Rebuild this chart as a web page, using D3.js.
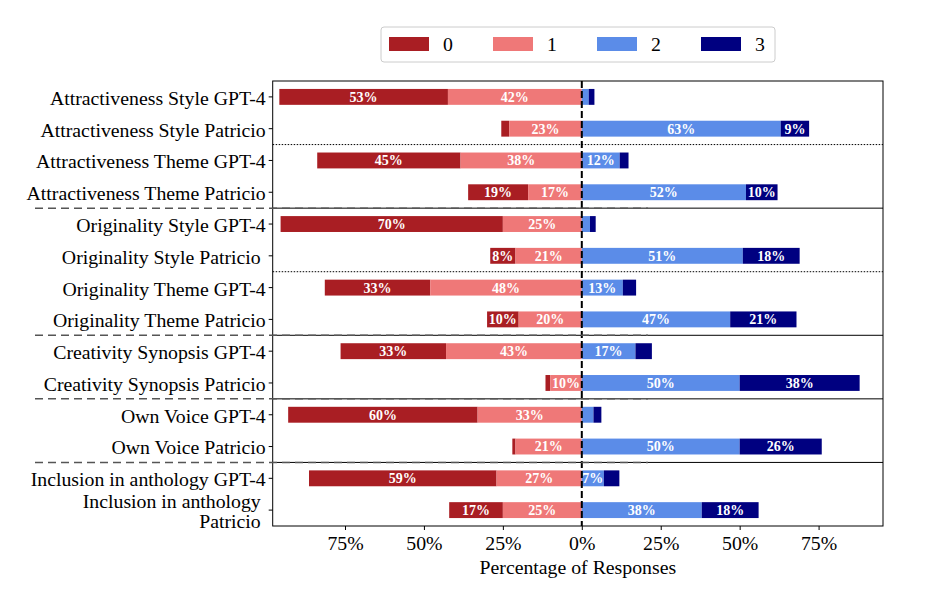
<!DOCTYPE html>
<html>
<head>
<meta charset="utf-8">
<script src="https://cdn.jsdelivr.net/npm/d3@7"></script>
<style>
  body { margin: 0; background: #fff; }
  svg, svg text { font-family: "Liberation Serif", "Times New Roman", serif; }
</style>
</head>
<body>
<div id="chart"></div>
<script>
// Row labels (top to bottom)
const categories = [
  "Attractiveness Style GPT-4",
  "Attractiveness Style Patricio",
  "Attractiveness Theme GPT-4",
  "Attractiveness Theme Patricio",
  "Originality Style GPT-4",
  "Originality Style Patricio ",
  "Originality Theme GPT-4",
  "Originality Theme Patricio",
  "Creativity Synopsis GPT-4",
  "Creativity Synopsis Patricio",
  "Own Voice GPT-4",
  "Own Voice Patricio",
  "Inclusion in anthology GPT-4",
  "Inclusion in anthology \nPatricio "
];

// Percentage of responses per score
const score0 = [53.4, 2.5, 45.4, 19, 70.4, 8, 33.4, 10, 33.4, 1.5, 60, 1, 59.4, 17];
const score1 = [42.4, 23, 38.4, 17, 25, 21, 48, 20, 43, 10, 33, 21, 27, 25];
const score2 = [2.2, 63, 12, 52, 2.6, 51, 13, 47, 17, 50, 3.7, 50, 7, 38];
const score3 = [1.8, 9, 2.8, 10, 1.8, 18, 4.2, 21, 5.2, 38, 2.5, 26, 4.9, 18];

const scoreNames = ["0", "1", "2", "3"];
const colors = ["#a91e23", "#ef7878", "#5b8ce8", "#000080"];

const xTicks = [-75, -50, -25, 0, 25, 50, 75];
const dottedAfter = [2, 6];        // dotted separators (row index boundaries)
const solidAfter = [4, 8, 10, 12]; // solid separators

const W = 926, H = 596;
const margin = { top: 81, right: 43, bottom: 70, left: 272.7 };
const width = W - margin.left - margin.right;
const height = H - margin.top - margin.bottom;
const FS = 19.8;

const svg = d3.select("#chart").append("svg")
    .attr("width", W).attr("height", H);

const g = svg.append("g")
    .attr("transform", `translate(${margin.left},${margin.top})`);

const x = d3.scaleLinear().domain([-97.9, 95.4]).range([0, width]);
const y = d3.scaleBand().domain(d3.range(categories.length)).range([0, height]).padding(0);
const barH = y.bandwidth() * 0.5;

// Build segments: 0 and 1 go left of zero, 2 and 3 go right
const rows = categories.map((c, i) => {
  const v = [score0[i], score1[i], score2[i], score3[i]];
  const segs = [];
  let left = -(v[0] + v[1]);
  segs.push({ k: 0, x0: left, x1: left + v[0], v: v[0] });
  segs.push({ k: 1, x0: left + v[0], x1: 0, v: v[1] });
  segs.push({ k: 2, x0: 0, x1: v[2], v: v[2] });
  segs.push({ k: 3, x0: v[2], x1: v[2] + v[3], v: v[3] });
  return { i, segs };
});

// Dashed group separators in the label area
solidAfter.forEach(r => {
  svg.append("line")
      .attr("x1", 35).attr("x2", 648)
      .attr("y1", margin.top + y(r)).attr("y2", margin.top + y(r))
      .attr("stroke", "#555").attr("stroke-width", 1.5)
      .attr("stroke-dasharray", "8,5");
});

// Bars
const rowG = g.selectAll(".row").data(rows).join("g")
    .attr("transform", d => `translate(0,${y(d.i) + (y.bandwidth() - barH) / 2})`);

rowG.selectAll("rect").data(d => d.segs).join("rect")
    .attr("x", d => x(d.x0))
    .attr("width", d => x(d.x1) - x(d.x0))
    .attr("height", barH)
    .attr("fill", d => colors[d.k]);

rowG.selectAll("text").data(d => d.segs.filter(s => s.v >= 6)).join("text")
    .attr("x", d => (x(d.x0) + x(d.x1)) / 2)
    .attr("y", barH / 2)
    .attr("dy", "0.35em")
    .attr("text-anchor", "middle")
    .attr("fill", "white")
    .attr("font-weight", "bold")
    .attr("font-size", 14)
    .text(d => Math.round(d.v) + "%");

// Separators inside the axes
dottedAfter.forEach(r => {
  g.append("line")
      .attr("x1", 0).attr("x2", width)
      .attr("y1", y(r)).attr("y2", y(r))
      .attr("stroke", "#000").attr("stroke-width", 1)
      .attr("stroke-dasharray", "1.5,1.5");
});
solidAfter.forEach(r => {
  g.append("line")
      .attr("x1", 0).attr("x2", width)
      .attr("y1", y(r)).attr("y2", y(r))
      .attr("stroke", "#000").attr("stroke-width", 1);
});

// Zero line
g.append("line")
    .attr("x1", x(0)).attr("x2", x(0))
    .attr("y1", 0).attr("y2", height)
    .attr("stroke", "#000").attr("stroke-width", 2)
    .attr("stroke-dasharray", "7,3");

// Frame
g.append("rect")
    .attr("width", width).attr("height", height)
    .attr("fill", "none").attr("stroke", "#000").attr("stroke-width", 1);

// X axis
const xAxis = g.append("g")
    .attr("transform", `translate(0,${height})`)
    .call(d3.axisBottom(x).tickValues(xTicks).tickSize(4).tickPadding(6)
        .tickFormat(d => Math.abs(d) + "%"));
xAxis.select(".domain").remove();
xAxis.selectAll("line").attr("stroke", "#000");
xAxis.selectAll("text").attr("font-size", FS).attr("fill", "#000")
    .attr("font-family", "Liberation Serif, serif");

g.append("text")
    .attr("x", width / 2).attr("y", height + 48)
    .attr("text-anchor", "middle")
    .attr("font-size", FS)
    .text("Percentage of Responses");

// Y axis
const yAxis = g.append("g")
    .call(d3.axisLeft(y).tickSize(4).tickPadding(5).tickFormat(""));
yAxis.select(".domain").remove();
yAxis.selectAll("line").attr("stroke", "#000");
yAxis.selectAll(".tick").each(function(d) {
  const lines = categories[d].split("\n");
  const t = d3.select(this).append("text")
      .attr("x", -7)
      .attr("text-anchor", "end")
      .attr("font-size", FS)
      .attr("fill", "#000")
      .attr("font-family", "Liberation Serif, serif")
      .style("white-space", "pre")
      .attr("xml:space", "preserve");
  lines.forEach((ln, j) => {
    t.append("tspan")
        .attr("x", -7)
        .attr("y", (j - (lines.length - 1) / 2) * 20 + 1)
        .attr("dy", "0.35em")
        .text(ln);
  });
});

// Legend
const leg = svg.append("g").attr("transform", "translate(381,27)");
leg.append("rect")
    .attr("width", 394).attr("height", 35).attr("rx", 3)
    .attr("fill", "#fff").attr("stroke", "#ccc");
scoreNames.forEach((n, k) => {
  const lx = 8 + k * 104;
  leg.append("rect")
      .attr("x", lx).attr("y", 10).attr("width", 40).attr("height", 14)
      .attr("fill", colors[k]);
  leg.append("text")
      .attr("x", lx + 59).attr("y", 17.5).attr("dy", "0.35em")
      .attr("text-anchor", "middle")
      .attr("font-size", FS)
      .text(n);
});
</script>
</body>
</html>
